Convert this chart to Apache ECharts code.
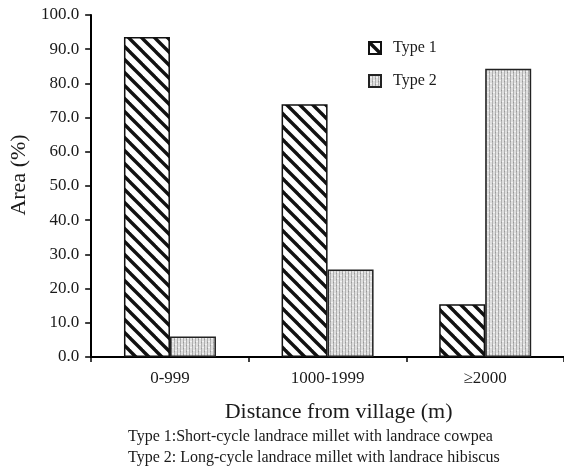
<!DOCTYPE html>
<html>
<head>
<meta charset="utf-8">
<script src="https://cdn.jsdelivr.net/npm/echarts@6/dist/echarts.min.js"></script>
<style>html,body{margin:0;padding:0;background:#fff;}#c{width:564px;height:467px;}</style>
</head>
<body>
<div id="c"></div>
<script>
const categories = ['0-999', '1000-1999', '\u22652000'];
const type1Values = [93.6, 73.9, 15.4];
const type2Values = [6.0, 25.6, 84.3];
const seriesNames = ['Type 1', 'Type 2'];
const yTicks = { min: 0, max: 100, interval: 10 };
const footnotes = [
  'Type 1:Short-cycle landrace millet with landrace cowpea',
  'Type 2: Long-cycle landrace millet with landrace hibiscus'
];

function stripePattern() {
  const s = 13;
  const c = document.createElement('canvas');
  c.width = s; c.height = s;
  const g = c.getContext('2d');
  g.fillStyle = '#ffffff';
  g.fillRect(0, 0, s, s);
  g.strokeStyle = '#111111';
  g.lineWidth = 3.4;
  for (let k = -1; k <= 1; k++) {
    g.beginPath();
    g.moveTo(k * s - 2, -2);
    g.lineTo(k * s + s + 2, s + 2);
    g.stroke();
  }
  return c;
}
function dotPattern() {
  const c = document.createElement('canvas');
  c.width = 6; c.height = 6;
  const g = c.getContext('2d');
  g.fillStyle = '#dedede';
  g.fillRect(0, 0, 6, 6);
  g.fillStyle = '#b0b0b0';
  g.fillRect(0, 0, 1, 6);
  g.fillRect(3, 0, 1, 6);
  g.fillStyle = '#f2f2f2';
  g.fillRect(1, 2, 2, 1);
  g.fillRect(4, 5, 2, 1);
  g.fillStyle = '#999999';
  g.fillRect(0, 3, 1, 1);
  g.fillRect(3, 0, 1, 1);
  return c;
}

const font = 'Liberation Serif';
const txt = '#1a1a1a';
const chart = echarts.init(document.getElementById('c'), null, { renderer: 'canvas' });
chart.setOption({
  animation: false,
  backgroundColor: '#ffffff',
  grid: { left: 91, top: 15, width: 477, bottom: 110, containLabel: false },
  legend: {
    data: seriesNames,
    orient: 'vertical',
    left: 368,
    top: 40,
    padding: 0,
    itemWidth: 12,
    itemHeight: 12,
    itemGap: 17,
    icon: 'rect',
    textStyle: { fontFamily: font, fontSize: 16, color: txt, padding: [0, 0, 0, 7] }
  },
  xAxis: {
    type: 'category',
    data: categories,
    name: 'Distance from village (m)',
    nameLocation: 'middle',
    nameGap: 44,
    nameTextStyle: { fontFamily: font, fontSize: 22, color: txt, padding: [0, 0, 0, 22] },
    axisLine: { lineStyle: { color: '#000', width: 2 } },
    axisTick: { show: true, length: 5, lineStyle: { color: '#000', width: 1.5 } },
    axisLabel: { fontFamily: font, fontSize: 17, color: txt, margin: 13 },
    splitLine: { show: false }
  },
  yAxis: {
    type: 'value',
    min: yTicks.min,
    max: yTicks.max,
    interval: yTicks.interval,
    name: 'Area (%)',
    nameLocation: 'middle',
    nameRotate: 90,
    nameGap: 60,
    nameTextStyle: { fontFamily: font, fontSize: 22, color: txt, padding: [0, 0, 0, 22] },
    axisLine: { show: true, lineStyle: { color: '#000', width: 2 } },
    axisTick: { show: true, length: 6, lineStyle: { color: '#000', width: 1.5 } },
    axisLabel: { fontFamily: font, fontSize: 17, color: txt, margin: 12, formatter: v => v.toFixed(1) },
    splitLine: { show: false }
  },
  series: [
    {
      name: seriesNames[0],
      type: 'bar',
      data: type1Values,
      barWidth: 46,
      barGap: '0%',
      itemStyle: { color: { image: stripePattern(), repeat: 'repeat' }, borderColor: '#111', borderWidth: 1.5 }
    },
    {
      name: seriesNames[1],
      type: 'bar',
      data: type2Values,
      barWidth: 46,
      barGap: '0%',
      itemStyle: { color: { image: dotPattern(), repeat: 'repeat' }, borderColor: '#222', borderWidth: 1.5 }
    }
  ],
  title: {
    text: footnotes.join('\n'),
    left: 128,
    top: 426,
    padding: 0,
    textStyle: { fontFamily: font, fontSize: 16, fontWeight: 'normal', color: txt, lineHeight: 21 }
  }
});
</script>
</body>
</html>
